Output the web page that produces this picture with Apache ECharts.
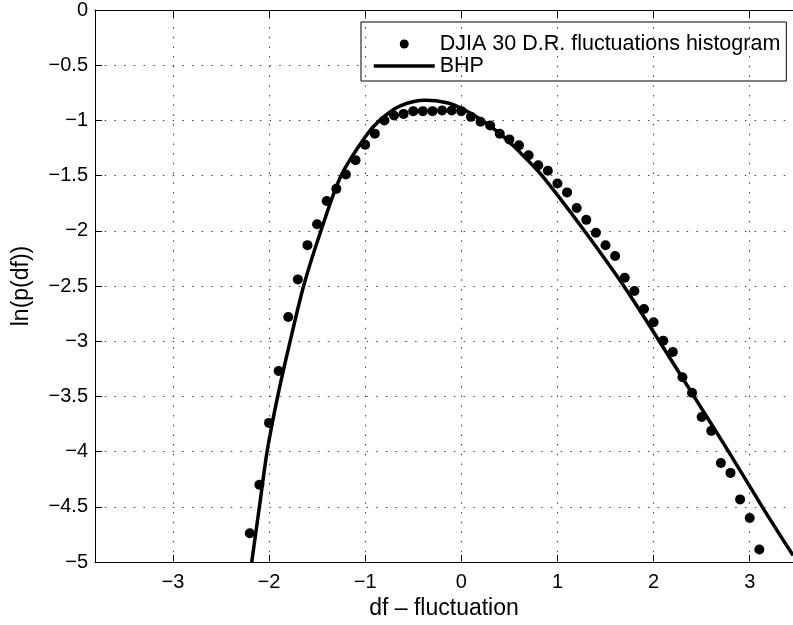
<!DOCTYPE html>
<html lang="en">
<head>
<meta charset="utf-8">
<style>
  html, body { margin: 0; padding: 0; background: #fff; }
  #chart { width: 793px; height: 625px; }
</style>
</head>
<body>
<div id="chart"></div>
<script src="https://cdn.jsdelivr.net/npm/echarts@6/dist/echarts.min.js"></script>
<script>
// histogram points (df, ln p)
var histX = [-2.2, -2.1, -2.0, -1.9, -1.8, -1.7, -1.6, -1.5, -1.4, -1.3, -1.2, -1.1, -1.0, -0.9, -0.8, -0.7, -0.6, -0.5,
             -0.4, -0.3, -0.2, -0.1, 0.0, 0.1, 0.2, 0.3, 0.4, 0.5, 0.6, 0.7, 0.8, 0.9, 1.0, 1.1, 1.2, 1.3, 1.4, 1.5,
             1.6, 1.7, 1.8, 1.9, 2.0, 2.1, 2.2, 2.3, 2.4, 2.5, 2.6, 2.7, 2.8, 2.9, 3.0, 3.1];
var histY = [-4.74, -4.30, -3.74, -3.27, -2.78, -2.44, -2.13, -1.94, -1.73, -1.62, -1.49, -1.36, -1.22, -1.12, -1.00, -0.956, -0.941, -0.916,
             -0.916, -0.916, -0.911, -0.911, -0.916, -0.968, -1.013, -1.046, -1.121, -1.172, -1.226, -1.316, -1.406, -1.456, -1.571, -1.652, -1.793, -1.901, -2.018, -2.131,
             -2.228, -2.426, -2.545, -2.709, -2.828, -2.995, -3.098, -3.326, -3.467, -3.686, -3.812, -4.103, -4.193, -4.433, -4.601, -4.886];

// BHP curve
var bhpX = [-2.18, -2.10, -2.02, -1.91, -1.78, -1.64, -1.46, -1.25, -1.0, -0.85, -0.64, -0.37, -0.15, 0.0, 0.2, 0.4, 0.6, 0.84, 1.28, 1.69, 2.06, 2.42, 2.78, 3.13, 3.45];
var bhpY = [-5.0, -4.5, -4.0, -3.5, -3.0, -2.5, -2.0, -1.5, -1.15, -1.0, -0.87, -0.818, -0.84, -0.89, -0.99, -1.12, -1.28, -1.5, -2.0, -2.5, -3.0, -3.5, -4.0, -4.5, -4.94];

var xTicks = [-3, -2, -1, 0, 1, 2, 3];

var FONT = 'Liberation Sans, Arial, Helvetica, sans-serif';
function minus(v) { return String(v).replace('-', '\u2212'); }
function zip(a, b) { return a.map(function (v, i) { return [v, b[i]]; }); }

var dotted = { type: [1.5, 8.2], color: '#444', width: 1.1 };

var chart = echarts.init(document.getElementById('chart'));
chart.setOption({
  animation: false,
  backgroundColor: '#fff',
  grid: { left: 95, right: 0, top: 7, bottom: 63 },
  legend: {
    orient: 'vertical',
    left: 361, top: 22,
    data: [
      { name: 'DJIA 30 D.R. fluctuations histogram', icon: 'circle', itemStyle: { color: '#000', opacity: 1 } },
      { name: 'BHP', itemStyle: { color: 'rgba(0,0,0,0)', borderWidth: 0, opacity: 0 }, lineStyle: { color: '#000', width: 3.5 } }
    ],
    itemWidth: 61, itemHeight: 9, itemGap: 0,
    padding: [11, 6, 4, 11],
    borderColor: '#000', borderWidth: 1, borderRadius: 0,
    backgroundColor: '#fff',
    textStyle: { fontFamily: FONT, fontSize: 21.5, color: '#000', lineHeight: 20 }
  },
  xAxis: [{
    type: 'value', min: -3.81, max: 3.45, position: 'bottom',
    name: 'df \u2013 fluctuation', nameLocation: 'middle', nameGap: 33,
    nameTextStyle: { fontFamily: FONT, fontSize: 23, color: '#000' },
    axisLine: { show: true, onZero: false, lineStyle: { color: '#000', width: 1 } },
    axisTick: { show: true, inside: true, length: 7, customValues: xTicks, lineStyle: { color: '#000' } },
    axisLabel: { customValues: xTicks, formatter: minus, margin: 10, fontFamily: FONT, fontSize: 20, color: '#000' },
    splitLine: { show: false }
  }, {
    type: 'value', min: -3.81, max: 3.45, position: 'top',
    axisLine: { show: true, onZero: false, lineStyle: { color: '#000', width: 1 } },
    axisTick: { show: true, inside: true, length: 7, customValues: xTicks, lineStyle: { color: '#000' } },
    axisLabel: { show: false },
    splitLine: { show: false }
  }],
  yAxis: {
    type: 'value', min: -5, max: 0, interval: 0.5,
    name: 'ln(p(df))', nameLocation: 'middle', nameGap: 62,
    nameTextStyle: { fontFamily: FONT, fontSize: 23, color: '#000' },
    axisLine: { show: true, onZero: false, lineStyle: { color: '#000', width: 1 } },
    axisTick: { show: true, inside: true, length: 7, lineStyle: { color: '#000' } },
    axisLabel: { formatter: minus, margin: 7, fontFamily: FONT, fontSize: 20, color: '#000' },
    splitLine: { show: true, lineStyle: dotted }
  },
  series: [{
    name: 'xgrid', type: 'line', data: [], z: 1, silent: true,
    markLine: {
      silent: true, symbol: ['none', 'none'], label: { show: false },
      lineStyle: dotted,
      emphasis: { disabled: true },
      data: xTicks.map(function (v) { return { xAxis: v }; })
    }
  }, {
    name: 'BHP', type: 'line', data: zip(bhpX, bhpY), smooth: 0.3,
    symbol: 'none', clip: true, z: 3,
    lineStyle: { color: '#000', width: 3.5 },
    itemStyle: { color: '#000' }
  }, {
    name: 'DJIA 30 D.R. fluctuations histogram', type: 'scatter', data: zip(histX, histY),
    symbol: 'circle', symbolSize: 10, z: 4,
    itemStyle: { color: '#000', opacity: 1 }
  }]
});
</script>
</body>
</html>
